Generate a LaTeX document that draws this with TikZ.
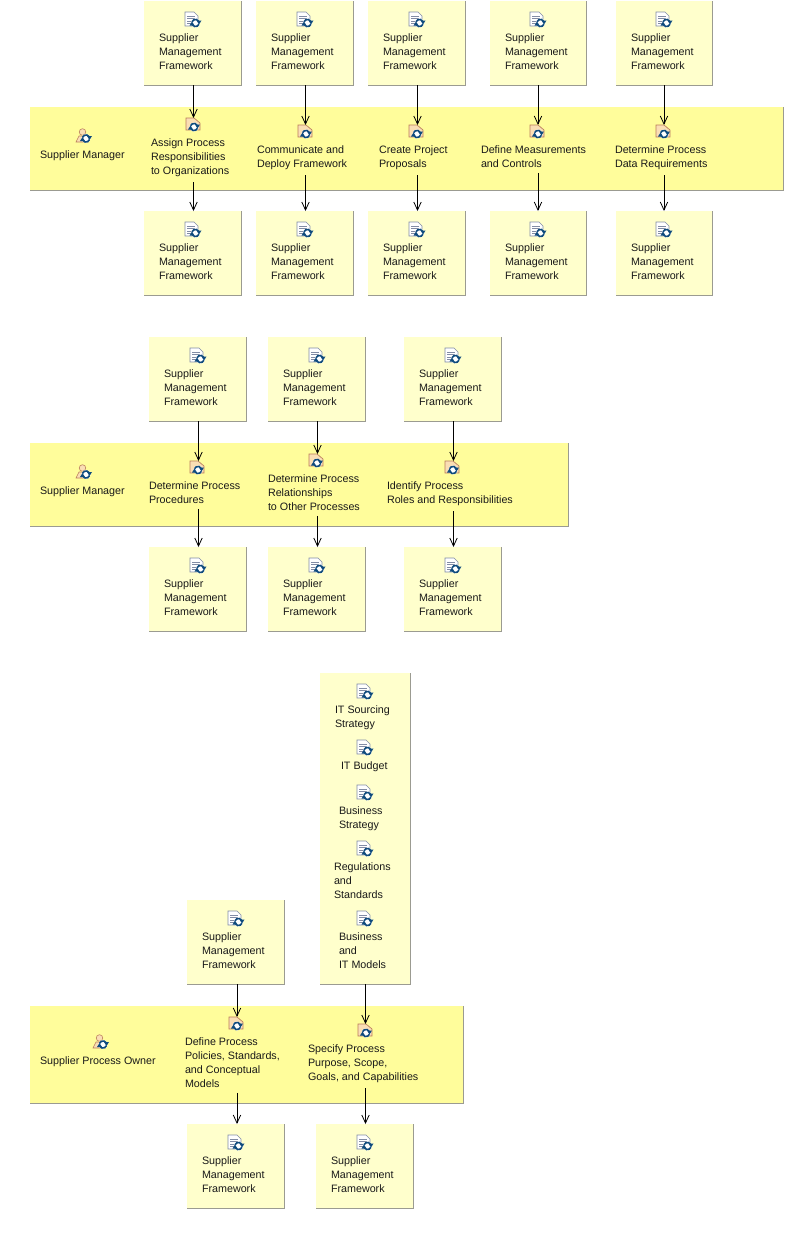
\documentclass[tikz,border=0pt]{standalone}
\usepackage{fontspec}
\setmainfont{Liberation Sans}
\usetikzlibrary{arrows.meta}
\definecolor{boxfill}{RGB}{255,255,204}
\definecolor{lanefill}{RGB}{255,253,155}
\definecolor{edgegray}{RGB}{155,155,145}
\definecolor{cycleblue}{RGB}{15,75,125}
\definecolor{pagegray}{RGB}{130,140,165}
\definecolor{acttan}{RGB}{250,222,180}
\definecolor{actred}{RGB}{185,125,90}
\tikzset{
  x=0.75pt,y=-0.75pt,
  artbox/.style={fill=boxfill,draw=none},
  lanebox/.style={fill=lanefill,draw=none},
  shade edge/.style={draw=edgegray,line width=0.75pt},
  lbl/.style={anchor=north west,inner sep=0pt,outer sep=0pt,align=left,font=\fontsize{8.05}{10.5}\selectfont,text=black!90},
  conn/.style={draw=black,line width=0.7pt,-{Straight Barb[length=6pt,width=5.5pt,line width=0.6pt]}},
  outconn/.style={conn,shorten <=3.75pt},
  anchorpt/.style={inner sep=0pt,outer sep=0pt,minimum size=0pt},
}
% cycle arrows centred at given px
\newcommand{\cyc}[2]{%
  \fill[white] (#1,#2) circle (4.6);
  \draw[cycleblue,line width=1.2pt] (#1,#2)++(150:3.6) arc[start angle=150,end angle=20,radius=3.6];
  \draw[cycleblue,line width=1.2pt] (#1,#2)++(330:3.6) arc[start angle=330,end angle=200,radius=3.6];
  \fill[cycleblue] (#1+6,#2-2.5)--(#1+1,#2-2.5)--(#1+3.5,#2+1.5)--cycle;
  \fill[cycleblue] (#1-6,#2+2.5)--(#1-1,#2+2.5)--(#1-3.5,#2-1.5)--cycle;
}
\newcommand{\docicon}[3]{% name x y
  \node[anchorpt] (#1) at (#2,#3) {};
  \fill[white,draw=pagegray,line width=0.4pt] (#2-7,#3-7)--(#2+2,#3-7)--(#2+6,#3-3)--(#2+6,#3+7)--(#2-7,#3+7)--cycle;
  \foreach \k in {-3,-0.5,2,4.5}{\draw[pagegray,line width=0.5pt] (#2-5,#3+\k)--(#2+3,#3+\k);}
  \cyc{#2+3.5}{#3+4}
}
\newcommand{\acticon}[3]{% name x y
  \node[anchorpt] (#1) at (#2,#3) {};
  \fill[acttan,draw=actred,line width=0.5pt] (#2-7,#3-6)--(#2+1,#3-6)--(#2+7,#3-1)--(#2+7,#3+6)--(#2-7,#3+6)--cycle;
  \cyc{#2+1}{#3+3}
}
\newcommand{\roleicon}[3]{% name x y
  \node[anchorpt] (#1) at (#2,#3) {};
  \fill[acttan,draw=actred,line width=0.4pt] (#2-1.5,#3-4) circle (3.3);
  \fill[acttan,draw=actred,line width=0.4pt] (#2-8,#3+6)--(#2-5,#3)--(#2+2,#3)--(#2+4,#3+6)--cycle;
  \cyc{#2+2}{#3+2.5}
}
% name, left, top, right, bottom
\newcommand{\artifact}[5]{%
  \node[artbox,anchor=north west,inner sep=0pt,outer sep=0pt,minimum width={(#4-#2)*0.75pt},minimum height={(#5-#3)*0.75pt}] (#1) at (#2,#3) {};
  \draw[shade edge] (#1.north east)--(#1.south east)--(#1.south west);
}
% framework box: name, left, top, right, icon x
\newcommand{\framework}[5]{%
  \artifact{#1}{#2}{#3}{#4}{#3+84}
  \docicon{#1i}{#5}{#3+18}
  \node[lbl] (#1t) at (#2+15,#3+33) {Supplier\\Management\\Framework};
}
\newcommand{\lane}[5]{% name left top right bottom
  \node[lanebox,anchor=north west,inner sep=0pt,outer sep=0pt,minimum width={(#4-#2)*0.75pt},minimum height={(#5-#3)*0.75pt}] (#1) at (#2,#3) {};
  \draw[shade edge] (#1.north east)--(#1.south east)--(#1.south west);
}
\begin{document}
\begin{tikzpicture}
\useasboundingbox (0,0) rectangle (804,1250);
\fill[white] (0,0) rectangle (804,1250);

%% ---------- first group
\lane{L1}{30}{107}{783}{190}
\roleicon{R1}{84}{136}
\node[lbl] (R1t) at (40,151) {Supplier Manager};

\framework{T1}{144}{1}{241}{192}
\framework{T2}{256}{1}{353}{304}
\framework{T3}{368}{1}{465}{416}
\framework{T4}{490}{1}{586}{537}
\framework{T5}{616}{1}{712}{663}

\acticon{A1}{193}{124}
\acticon{A2}{305}{131}
\acticon{A3}{416}{131}
\acticon{A4}{537}{131}
\acticon{A5}{663}{131}
\node[lbl] (A1t) at (151,139) {Assign Process\\Responsibilities\\to Organizations};
\node[lbl] (A2t) at (257,146) {Communicate and\\Deploy Framework};
\node[lbl] (A3t) at (379,146) {Create Project\\Proposals};
\node[lbl] (A4t) at (481,146) {Define Measurements\\and Controls};
\node[lbl] (A5t) at (615,146) {Determine Process\\Data Requirements};

\framework{B1}{144}{211}{241}{192}
\framework{B2}{256}{211}{353}{304}
\framework{B3}{368}{211}{465}{416}
\framework{B4}{490}{211}{586}{537}
\framework{B5}{616}{211}{712}{663}

\coordinate (c1) at (193.5,0); \coordinate (c2) at (305.5,0); \coordinate (c3) at (417.5,0);
\coordinate (c4) at (538,0); \coordinate (c5) at (664,0);
\draw[conn] (c1 |- T1.south) -- (c1 |- 0,118);
\draw[conn] (c2 |- T2.south) -- (c2 |- 0,125);
\draw[conn] (c3 |- T3.south) -- (c3 |- 0,125);
\draw[conn] (c4 |- T4.south) -- (c4 |- 0,125);
\draw[conn] (c5 |- T5.south) -- (c5 |- 0,125);
\draw[outconn] (c1 |- A1t.south) -- (c1 |- B1.north);
\draw[outconn] (c2 |- A2t.south) -- (c2 |- B2.north);
\draw[outconn] (c3 |- A3t.south) -- (c3 |- B3.north);
\draw[outconn] (c4 |- A4t.south) -- (c4 |- B4.north);
\draw[outconn] (c5 |- A5t.south) -- (c5 |- B5.north);

%% ---------- second group
\lane{L2}{30}{443}{568}{526}
\roleicon{R2}{84}{472}
\node[lbl] (R2t) at (40,487) {Supplier Manager};
\framework{U1}{149}{337}{246}{197}
\framework{U2}{268}{337}{365}{316}
\framework{U3}{404}{337}{501}{452}
\acticon{D1}{197}{467}
\acticon{D2}{316}{460}
\acticon{D3}{452}{467}
\node[lbl] (D1t) at (149,482) {Determine Process\\Procedures};
\node[lbl] (D2t) at (268,475) {Determine Process\\Relationships\\to Other Processes};
\node[lbl] (D3t) at (387,482) {Identify Process\\Roles and Responsibilities};
\framework{V1}{149}{547}{246}{197}
\framework{V2}{268}{547}{365}{316}
\framework{V3}{404}{547}{501}{452}
\coordinate (d1) at (198.5,0); \coordinate (d2) at (317.5,0); \coordinate (d3) at (453.5,0);
\draw[conn] (d1 |- U1.south) -- (d1 |- 0,461);
\draw[conn] (d2 |- U2.south) -- (d2 |- 0,454);
\draw[conn] (d3 |- U3.south) -- (d3 |- 0,461);
\draw[outconn] (d1 |- D1t.south) -- (d1 |- V1.north);
\draw[outconn] (d2 |- D2t.south) -- (d2 |- V2.north);
\draw[outconn] (d3 |- D3t.south) -- (d3 |- V3.north);

%% ---------- third group
\lane{L3}{30}{1006}{463}{1103}
\roleicon{R3}{101}{1042}
\node[lbl] (R3t) at (40,1057) {Supplier Process Owner};
\framework{W1}{187}{900}{284}{235}
\artifact{W2}{320}{673}{410}{984}
\docicon{W2a}{364}{691}
\node[lbl] (W2at) at (335,706) {IT Sourcing\\Strategy};
\docicon{W2b}{364}{747}
\node[lbl] (W2bt) at (341,762) {IT Budget};
\docicon{W2c}{364}{792}
\node[lbl] (W2ct) at (339,807) {Business\\Strategy};
\docicon{W2d}{364}{848}
\node[lbl] (W2dt) at (334,863) {Regulations\\and\\Standards};
\docicon{W2e}{364}{918}
\node[lbl] (W2et) at (339,933) {Business\\and\\IT Models};
\acticon{E1}{236}{1023}
\acticon{E2}{365}{1030}
\node[lbl] (E1t) at (185,1038) {Define Process\\Policies, Standards,\\and Conceptual\\Models};
\node[lbl] (E2t) at (308,1045) {Specify Process\\Purpose, Scope,\\Goals, and Capabilities};
\framework{X1}{187}{1124}{284}{235}
\framework{X2}{316}{1124}{413}{364}
\coordinate (e1) at (237,0); \coordinate (e2) at (365.5,0);
\draw[conn] (e1 |- W1.south) -- (e1 |- 0,1017);
\draw[conn] (e2 |- W2.south) -- (e2 |- 0,1024);
\draw[outconn] (e1 |- E1t.south) -- (e1 |- X1.north);
\draw[outconn] (e2 |- E2t.south) -- (e2 |- X2.north);
\end{tikzpicture}
\end{document}
